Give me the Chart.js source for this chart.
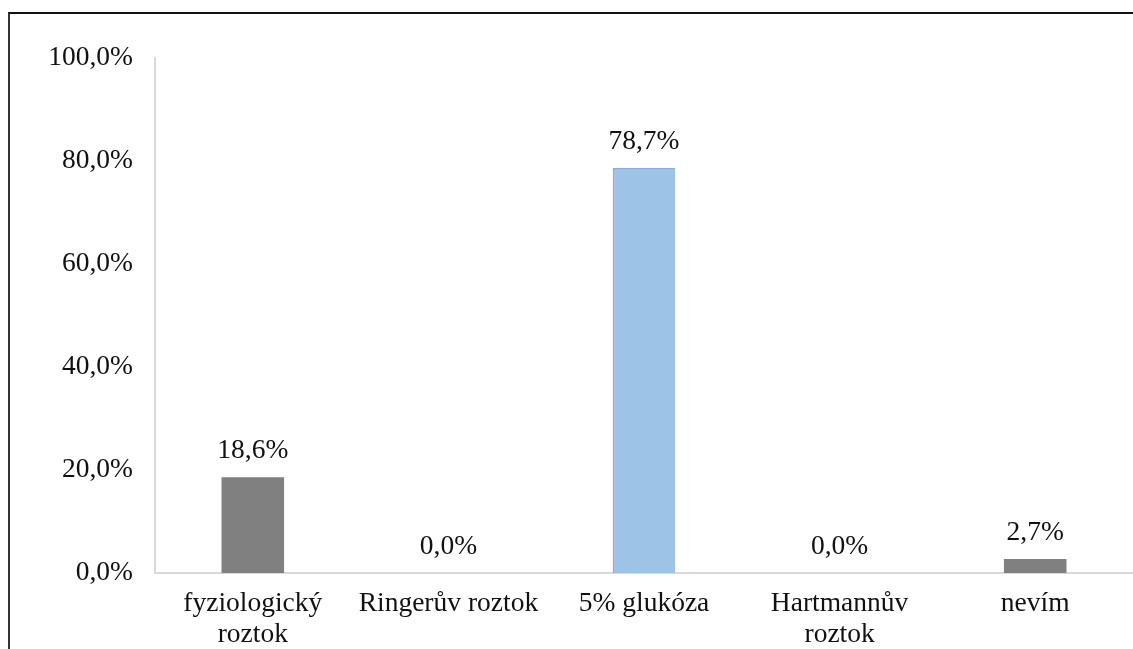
<!DOCTYPE html>
<html>
<head>
<meta charset="utf-8">
<script src="https://cdn.jsdelivr.net/npm/chart.js@4/dist/chart.umd.min.js"></script>
<style>
  html, body { margin: 0; padding: 0; background: #fff; overflow: hidden; }
  #wrap { position: relative; width: 1133px; height: 649px; }
  #frame {
    position: absolute; left: 8px; top: 12px; right: -5px; bottom: -5px;
    border-top: 2px solid #111; border-left: 2px solid #333;
    pointer-events: none;
  }
</style>
</head>
<body>
<div id="wrap">
  <canvas id="barChart" width="1133" height="649"></canvas>
  <div id="frame"></div>
</div>
<script>
// data
const categories = [['fyziologický', 'roztok'], 'Ringerův roztok', '5% glukóza', ['Hartmannův', 'roztok'], 'nevím'];
const values = [18.6, 0.0, 78.7, 0.0, 2.7];
const barColors = ['#808080', '#808080', '#9DC3E6', '#808080', '#808080'];

const FONT = { family: '"Liberation Serif", "Times New Roman", serif', size: 27.5, lineHeight: 1.1 };
const pct = v => Number(v).toFixed(1).replace('.', ',') + '%';

// value labels above each bar
const valueLabels = {
  id: 'valueLabels',
  afterDatasetsDraw(chart) {
    const ctx = chart.ctx;
    const meta = chart.getDatasetMeta(0);
    ctx.save();
    ctx.font = FONT.size + 'px ' + FONT.family;
    ctx.fillStyle = '#111';
    ctx.textAlign = 'center';
    ctx.textBaseline = 'middle';
    meta.data.forEach((bar, i) => {
      ctx.fillText(pct(values[i]), bar.x, bar.y - 26);
    });
    ctx.restore();
  }
};

Chart.defaults.font = FONT;
Chart.defaults.color = '#111';

new Chart(document.getElementById('barChart'), {
  type: 'bar',
  data: {
    labels: categories,
    datasets: [{
      data: values,
      backgroundColor: barColors,
      borderColor: ['#808080', '#808080', '#8FAADC', '#808080', '#808080'],
      borderWidth: [0, 0, { top: 2, left: 2, right: 0, bottom: 0 }, 0, 0],
      borderSkipped: false,
      categoryPercentage: 1,
      barPercentage: 0.32
    }]
  },
  options: {
    responsive: false,
    animation: false,
    layout: { padding: { top: 58, right: 0, left: 0, bottom: 0 } },
    plugins: {
      legend: { display: false },
      tooltip: { enabled: false }
    },
    scales: {
      x: {
        grid: { display: false, drawTicks: false },
        border: { display: true, color: '#D9D9D9', width: 2 },
        ticks: { padding: 16, maxRotation: 0, autoSkip: false, font: FONT },
        afterFit: s => { s.height = 76; }
      },
      y: {
        min: 0,
        max: 100,
        grid: { display: false, drawTicks: false },
        border: { display: true, color: '#D9D9D9', width: 2 },
        ticks: { stepSize: 20, padding: 22, callback: v => pct(v), font: FONT },
        afterFit: s => { s.width = 155; }
      }
    }
  },
  plugins: [valueLabels]
});
</script>
</body>
</html>
